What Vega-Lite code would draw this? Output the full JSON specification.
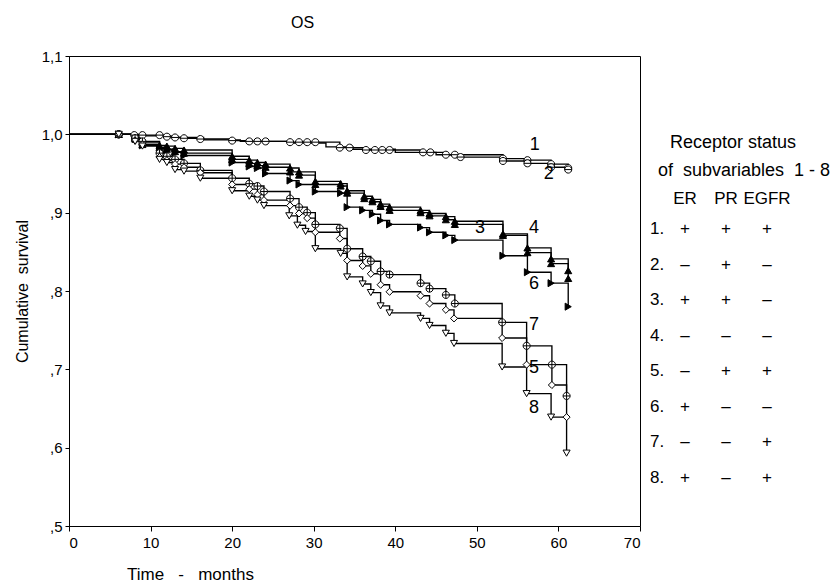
{
  "$schema": "https://vega.github.io/schema/vega-lite/v6.json",
  "padding": {"left": 13, "top": 14, "right": 0, "bottom": 0},
  "background": "white",
  "config": {
    "font": "Liberation Sans",
    "view": {"stroke": "black", "strokeWidth": 1},
    "axis": {"grid": false, "domainColor": "black", "tickColor": "black", "labelColor": "black", "titleColor": "black", "labelFont": "Liberation Sans", "titleFont": "Liberation Sans", "labelFontSize": 15, "titleFontSize": 16, "titleFontWeight": "normal", "tickSize": 4},
    "title": {"fontWeight": "normal", "color": "black", "font": "Liberation Sans"},
    "text": {"font": "Liberation Sans", "color": "black"}
  },
  "bounds": "flush",
  "spacing": 0,
  "hconcat": [
    {
      "width": 571,
      "height": 470,
      "title": {"text": "OS", "fontSize": 16, "anchor": "middle", "dx": -52, "offset": 18},
      "data": {"values": [
        {"g":"1","t":0,"s":1,"c":0},{"g":"1","t":6.1,"s":1,"c":1},{"g":"1","t":8.0,"s":0.999,"c":1},{"g":"1","t":9.0,"s":0.999,"c":1},{"g":"1","t":11.1,"s":0.999,"c":1},{"g":"1","t":12.0,"s":0.997,"c":1},{"g":"1","t":13.0,"s":0.996,"c":1},{"g":"1","t":14.1,"s":0.995,"c":1},{"g":"1","t":16.1,"s":0.994,"c":1},{"g":"1","t":20.0,"s":0.992,"c":1},{"g":"1","t":22.1,"s":0.991,"c":1},{"g":"1","t":23.1,"s":0.991,"c":1},{"g":"1","t":24.1,"s":0.991,"c":1},{"g":"1","t":27.1,"s":0.990,"c":1},{"g":"1","t":28.2,"s":0.990,"c":1},{"g":"1","t":29.2,"s":0.990,"c":1},{"g":"1","t":30.2,"s":0.990,"c":1},{"g":"1","t":33.2,"s":0.983,"c":1},{"g":"1","t":34.4,"s":0.983,"c":1},{"g":"1","t":36.4,"s":0.980,"c":1},{"g":"1","t":37.5,"s":0.980,"c":1},{"g":"1","t":38.4,"s":0.980,"c":1},{"g":"1","t":39.3,"s":0.980,"c":1},{"g":"1","t":43.4,"s":0.977,"c":1},{"g":"1","t":44.3,"s":0.977,"c":1},{"g":"1","t":46.2,"s":0.974,"c":1},{"g":"1","t":47.3,"s":0.974,"c":1},{"g":"1","t":53.2,"s":0.969,"c":1},{"g":"1","t":56.2,"s":0.967,"c":1},{"g":"1","t":59.1,"s":0.962,"c":1},{"g":"1","t":61.2,"s":0.957,"c":1},
        {"g":"2","t":0,"s":1,"c":0},{"g":"2","t":6.1,"s":1,"c":1},{"g":"2","t":8.5,"s":0.998,"c":0},{"g":"2","t":12.5,"s":0.996,"c":0},{"g":"2","t":16.5,"s":0.993,"c":0},{"g":"2","t":21.0,"s":0.991,"c":0},{"g":"2","t":27.5,"s":0.989,"c":0},{"g":"2","t":31.5,"s":0.984,"c":0},{"g":"2","t":34.8,"s":0.981,"c":0},{"g":"2","t":40.0,"s":0.977,"c":0},{"g":"2","t":45.0,"s":0.974,"c":0},{"g":"2","t":48.0,"s":0.971,"c":1},{"g":"2","t":53.2,"s":0.966,"c":1},{"g":"2","t":56.2,"s":0.963,"c":1},{"g":"2","t":59.1,"s":0.958,"c":1},{"g":"2","t":61.2,"s":0.955,"c":1},
        {"g":"4","t":0,"s":1,"c":0},{"g":"4","t":6.1,"s":1,"c":1},{"g":"4","t":8.1,"s":0.996,"c":1},{"g":"4","t":9.0,"s":0.990,"c":1},{"g":"4","t":11.1,"s":0.986,"c":1},{"g":"4","t":12.0,"s":0.985,"c":1},{"g":"4","t":13.0,"s":0.982,"c":1},{"g":"4","t":14.1,"s":0.980,"c":1},{"g":"4","t":20.0,"s":0.972,"c":1},{"g":"4","t":22.1,"s":0.967,"c":1},{"g":"4","t":23.1,"s":0.964,"c":1},{"g":"4","t":24.1,"s":0.962,"c":1},{"g":"4","t":27.1,"s":0.957,"c":1},{"g":"4","t":28.2,"s":0.952,"c":1},{"g":"4","t":30.2,"s":0.940,"c":1},{"g":"4","t":33.3,"s":0.937,"c":1},{"g":"4","t":34.1,"s":0.928,"c":1},{"g":"4","t":36.2,"s":0.921,"c":1},{"g":"4","t":37.2,"s":0.917,"c":1},{"g":"4","t":38.2,"s":0.911,"c":1},{"g":"4","t":39.3,"s":0.907,"c":1},{"g":"4","t":43.1,"s":0.903,"c":1},{"g":"4","t":44.2,"s":0.899,"c":1},{"g":"4","t":46.2,"s":0.895,"c":1},{"g":"4","t":47.3,"s":0.889,"c":1},{"g":"4","t":53.2,"s":0.873,"c":1},{"g":"4","t":56.2,"s":0.855,"c":1},{"g":"4","t":59.1,"s":0.841,"c":1},{"g":"4","t":61.2,"s":0.826,"c":1},
        {"g":"3","t":0,"s":1,"c":0},{"g":"3","t":6.1,"s":1,"c":1},{"g":"3","t":8.1,"s":0.995,"c":1},{"g":"3","t":9.0,"s":0.987,"c":1},{"g":"3","t":11.1,"s":0.983,"c":1},{"g":"3","t":12.0,"s":0.981,"c":1},{"g":"3","t":13.0,"s":0.978,"c":1},{"g":"3","t":14.1,"s":0.976,"c":1},{"g":"3","t":20.0,"s":0.968,"c":1},{"g":"3","t":22.1,"s":0.963,"c":1},{"g":"3","t":23.1,"s":0.960,"c":1},{"g":"3","t":24.1,"s":0.958,"c":1},{"g":"3","t":27.1,"s":0.952,"c":1},{"g":"3","t":28.2,"s":0.948,"c":1},{"g":"3","t":30.2,"s":0.936,"c":1},{"g":"3","t":33.3,"s":0.934,"c":1},{"g":"3","t":34.1,"s":0.925,"c":1},{"g":"3","t":36.2,"s":0.918,"c":1},{"g":"3","t":37.2,"s":0.914,"c":1},{"g":"3","t":38.2,"s":0.908,"c":1},{"g":"3","t":39.3,"s":0.903,"c":1},{"g":"3","t":43.1,"s":0.900,"c":1},{"g":"3","t":44.2,"s":0.896,"c":1},{"g":"3","t":46.2,"s":0.891,"c":1},{"g":"3","t":47.3,"s":0.885,"c":1},{"g":"3","t":53.2,"s":0.871,"c":1},{"g":"3","t":56.2,"s":0.849,"c":1},{"g":"3","t":59.1,"s":0.835,"c":1},{"g":"3","t":61.2,"s":0.816,"c":1},
        {"g":"6","t":0,"s":1,"c":0},{"g":"6","t":6.1,"s":1,"c":1},{"g":"6","t":8.1,"s":0.994,"c":1},{"g":"6","t":9.0,"s":0.986,"c":1},{"g":"6","t":11.1,"s":0.982,"c":1},{"g":"6","t":12.0,"s":0.980,"c":1},{"g":"6","t":13.0,"s":0.977,"c":1},{"g":"6","t":14.1,"s":0.973,"c":1},{"g":"6","t":20.0,"s":0.964,"c":1},{"g":"6","t":22.1,"s":0.959,"c":1},{"g":"6","t":23.1,"s":0.957,"c":1},{"g":"6","t":24.1,"s":0.950,"c":1},{"g":"6","t":27.1,"s":0.941,"c":1},{"g":"6","t":28.2,"s":0.936,"c":1},{"g":"6","t":30.2,"s":0.927,"c":1},{"g":"6","t":33.3,"s":0.925,"c":1},{"g":"6","t":34.1,"s":0.907,"c":1},{"g":"6","t":36.0,"s":0.903,"c":1},{"g":"6","t":37.2,"s":0.898,"c":1},{"g":"6","t":38.2,"s":0.890,"c":1},{"g":"6","t":39.3,"s":0.885,"c":1},{"g":"6","t":43.1,"s":0.881,"c":1},{"g":"6","t":44.2,"s":0.875,"c":1},{"g":"6","t":46.2,"s":0.871,"c":1},{"g":"6","t":47.3,"s":0.865,"c":1},{"g":"6","t":53.2,"s":0.845,"c":1},{"g":"6","t":56.2,"s":0.824,"c":1},{"g":"6","t":59.1,"s":0.810,"c":1},{"g":"6","t":61.2,"s":0.780,"c":1},
        {"g":"7","t":0,"s":1,"c":0},{"g":"7","t":6.1,"s":1,"c":1},{"g":"7","t":8.1,"s":0.995,"c":1},{"g":"7","t":9.0,"s":0.991,"c":1},{"g":"7","t":11.1,"s":0.976,"c":1},{"g":"7","t":12.0,"s":0.972,"c":1},{"g":"7","t":13.0,"s":0.968,"c":1},{"g":"7","t":14.1,"s":0.963,"c":1},{"g":"7","t":16.1,"s":0.954,"c":1},{"g":"7","t":20.0,"s":0.944,"c":1},{"g":"7","t":22.1,"s":0.937,"c":1},{"g":"7","t":23.1,"s":0.934,"c":1},{"g":"7","t":23.9,"s":0.927,"c":1},{"g":"7","t":27.1,"s":0.918,"c":1},{"g":"7","t":28.2,"s":0.907,"c":1},{"g":"7","t":29.2,"s":0.900,"c":1},{"g":"7","t":30.2,"s":0.885,"c":1},{"g":"7","t":33.2,"s":0.880,"c":1},{"g":"7","t":34.1,"s":0.854,"c":1},{"g":"7","t":36.0,"s":0.844,"c":1},{"g":"7","t":37.0,"s":0.838,"c":1},{"g":"7","t":38.2,"s":0.825,"c":1},{"g":"7","t":39.3,"s":0.821,"c":1},{"g":"7","t":43.1,"s":0.810,"c":1},{"g":"7","t":44.2,"s":0.803,"c":1},{"g":"7","t":46.2,"s":0.795,"c":1},{"g":"7","t":47.3,"s":0.784,"c":1},{"g":"7","t":53.1,"s":0.760,"c":1},{"g":"7","t":56.1,"s":0.730,"c":1},{"g":"7","t":59.2,"s":0.706,"c":1},{"g":"7","t":61.0,"s":0.666,"c":1},
        {"g":"5","t":0,"s":1,"c":0},{"g":"5","t":6.1,"s":1,"c":1},{"g":"5","t":8.1,"s":0.992,"c":1},{"g":"5","t":9.0,"s":0.987,"c":1},{"g":"5","t":11.1,"s":0.971,"c":1},{"g":"5","t":12.0,"s":0.967,"c":1},{"g":"5","t":13.0,"s":0.962,"c":1},{"g":"5","t":14.1,"s":0.958,"c":1},{"g":"5","t":16.1,"s":0.951,"c":1},{"g":"5","t":20.0,"s":0.936,"c":1},{"g":"5","t":22.1,"s":0.930,"c":1},{"g":"5","t":23.1,"s":0.923,"c":1},{"g":"5","t":23.9,"s":0.916,"c":1},{"g":"5","t":27.1,"s":0.909,"c":1},{"g":"5","t":28.2,"s":0.899,"c":1},{"g":"5","t":29.2,"s":0.893,"c":1},{"g":"5","t":30.2,"s":0.875,"c":1},{"g":"5","t":33.2,"s":0.867,"c":1},{"g":"5","t":34.1,"s":0.839,"c":1},{"g":"5","t":36.0,"s":0.832,"c":1},{"g":"5","t":37.0,"s":0.822,"c":1},{"g":"5","t":38.2,"s":0.808,"c":1},{"g":"5","t":39.3,"s":0.799,"c":1},{"g":"5","t":43.1,"s":0.794,"c":1},{"g":"5","t":44.2,"s":0.784,"c":1},{"g":"5","t":46.2,"s":0.776,"c":1},{"g":"5","t":47.2,"s":0.765,"c":1},{"g":"5","t":53.1,"s":0.740,"c":1},{"g":"5","t":56.1,"s":0.706,"c":1},{"g":"5","t":59.2,"s":0.680,"c":1},{"g":"5","t":61.0,"s":0.639,"c":1},
        {"g":"8","t":0,"s":1,"c":0},{"g":"8","t":6.1,"s":1,"c":1},{"g":"8","t":8.1,"s":0.991,"c":1},{"g":"8","t":9.0,"s":0.985,"c":1},{"g":"8","t":11.1,"s":0.968,"c":1},{"g":"8","t":12.0,"s":0.964,"c":1},{"g":"8","t":13.0,"s":0.955,"c":1},{"g":"8","t":14.1,"s":0.953,"c":1},{"g":"8","t":16.1,"s":0.944,"c":1},{"g":"8","t":20.0,"s":0.928,"c":1},{"g":"8","t":22.1,"s":0.921,"c":1},{"g":"8","t":23.1,"s":0.916,"c":1},{"g":"8","t":23.9,"s":0.909,"c":1},{"g":"8","t":27.0,"s":0.896,"c":1},{"g":"8","t":28.0,"s":0.884,"c":1},{"g":"8","t":29.0,"s":0.876,"c":1},{"g":"8","t":30.2,"s":0.854,"c":1},{"g":"8","t":33.3,"s":0.848,"c":1},{"g":"8","t":34.1,"s":0.818,"c":1},{"g":"8","t":36.0,"s":0.809,"c":1},{"g":"8","t":37.0,"s":0.798,"c":1},{"g":"8","t":38.2,"s":0.781,"c":1},{"g":"8","t":39.3,"s":0.772,"c":1},{"g":"8","t":43.1,"s":0.765,"c":1},{"g":"8","t":44.2,"s":0.756,"c":1},{"g":"8","t":46.2,"s":0.746,"c":1},{"g":"8","t":47.2,"s":0.733,"c":1},{"g":"8","t":53.1,"s":0.703,"c":1},{"g":"8","t":56.1,"s":0.669,"c":1},{"g":"8","t":59.1,"s":0.639,"c":1},{"g":"8","t":61.0,"s":0.593,"c":1}
      ]},
      "encoding": {
        "x": {"field": "t", "type": "quantitative", "scale": {"domain": [0, 70], "nice": false, "zero": false},
              "axis": {"values": [0,10,20,30,40,50,60,70], "format": "d", "title": "Time\u00a0\u00a0 -\u00a0\u00a0 months", "titleFontSize": 17, "titleX": 121, "titleY": 48, "titleAlign": "center", "titleBaseline": "middle", "labelPadding": 4, "tickSize": 5}},
        "y": {"field": "s", "type": "quantitative", "scale": {"domain": [0.5, 1.1], "nice": false, "zero": false},
              "axis": {"values": [0.5,0.6,0.7,0.8,0.9,1.0,1.1], "labelExpr": "datum.value >= 1 ? replace(format(datum.value, '.1f'), '.', ',') : ',' + format(datum.value * 10, '.0f')", "title": "Cumulative\u00a0 survival", "titlePadding": 11, "labelPadding": 3}}
      },
      "layer": [
        {"mark": {"type": "line", "interpolate": "step-after", "color": "black", "strokeWidth": 1.35},
         "encoding": {"detail": {"field": "g"}, "order": {"field": "t", "type": "quantitative"}}},
        {"transform": [{"filter": "datum.c == 1"}],
         "mark": {"type": "point", "filled": true, "stroke": "black", "strokeWidth": 1, "opacity": 1},
         "encoding": {
           "shape": {"field": "g", "type": "nominal", "legend": null, "scale": {"domain": ["1","2","3","4","5","6","7","8"], "range": ["M-1,0A1,1,0,1,0,1,0A1,1,0,1,0,-1,0ZM-1,0L1,0", "M-1,0A1,1,0,1,0,1,0A1,1,0,1,0,-1,0ZM-1,0L1,0", "triangle-up", "triangle-up", "diamond", "triangle-right", "M-1,0A1,1,0,1,0,1,0A1,1,0,1,0,-1,0ZM-1,0L1,0M0,-1L0,1", "triangle-down"]}},
           "fill": {"field": "g", "type": "nominal", "legend": null, "scale": {"domain": ["1","2","3","4","5","6","7","8"], "range": ["white","white","black","black","white","black","white","white"]}},
           "size": {"field": "g", "type": "nominal", "legend": null, "scale": {"domain": ["1","2","3","4","5","6","7","8"], "range": [50,50,16,16,40,24,55,35]}}
         }},
        {"data": {"values": [
          {"lab":"1","t":57.1,"s":0.986},{"lab":"2","t":58.8,"s":0.950},{"lab":"3","t":50.4,"s":0.881},{"lab":"4","t":57.0,"s":0.880},
          {"lab":"6","t":57.0,"s":0.809},{"lab":"7","t":57.0,"s":0.757},{"lab":"5","t":57.0,"s":0.702},{"lab":"8","t":57.0,"s":0.651}
         ]},
         "mark": {"type": "text", "fontSize": 18, "baseline": "middle", "align": "center"},
         "encoding": {"text": {"field": "lab"}}}
      ]
    },
    {
      "width": 164,
      "height": 426,
      "view": {"stroke": null},
      "data": {"values": [
        {"r":"1.","ER":"+","PR":"+","EGFR":"+"},
        {"r":"2.","ER":"–","PR":"+","EGFR":"–"},
        {"r":"3.","ER":"+","PR":"+","EGFR":"–"},
        {"r":"4.","ER":"–","PR":"–","EGFR":"–"},
        {"r":"5.","ER":"–","PR":"+","EGFR":"+"},
        {"r":"6.","ER":"+","PR":"–","EGFR":"–"},
        {"r":"7.","ER":"–","PR":"–","EGFR":"+"},
        {"r":"8.","ER":"+","PR":"–","EGFR":"+"}
      ]},
      "layer": [
        {"transform": [{"fold": ["ER","PR","EGFR"], "as": ["col","v"]}],
         "mark": {"type": "text", "fontSize": 17, "baseline": "middle"},
         "encoding": {
           "x": {"field": "col", "type": "nominal", "axis": null, "scale": {"type": "point", "domain": ["ER","PR","EGFR"], "padding": 1, "align": 0.549}},
           "y": {"field": "r", "type": "nominal", "axis": null, "scale": {"type": "point", "domain": ["T1","T2","H","1.","2.","3.","4.","5.","6.","7.","8."], "padding": 1, "align": 0.937}},
           "text": {"field": "v"}
         }},
        {"mark": {"type": "text", "fontSize": 17, "baseline": "middle", "align": "left", "dx": -35},
         "encoding": {"x": {"datum": "ER", "type": "nominal"}, "y": {"field": "r", "type": "nominal"}, "text": {"field": "r"}}},
        {"data": {"values": [{"col":"ER","r":"H"},{"col":"PR","r":"H"},{"col":"EGFR","r":"H"}]},
         "mark": {"type": "text", "fontSize": 17, "baseline": "middle", "dy": 5.5},
         "encoding": {"x": {"field": "col", "type": "nominal"}, "y": {"field": "r", "type": "nominal"}, "text": {"field": "col"}}},
        {"data": {"values": [{"r":"T1","line":"Receptor status"}]},
         "mark": {"type": "text", "fontSize": 18, "baseline": "middle", "align": "left", "dx": -15, "dy": 20.5},
         "encoding": {"x": {"datum": "ER", "type": "nominal"}, "y": {"field": "r", "type": "nominal"}, "text": {"field": "line"}}},
        {"data": {"values": [{"r":"T2","line":"of\u00a0 subvariables\u00a0 1 - 8"}]},
         "mark": {"type": "text", "fontSize": 18, "baseline": "middle", "align": "left", "dx": -27, "dy": 13},
         "encoding": {"x": {"datum": "ER", "type": "nominal"}, "y": {"field": "r", "type": "nominal"}, "text": {"field": "line"}}}
      ]
    }
  ]
}
